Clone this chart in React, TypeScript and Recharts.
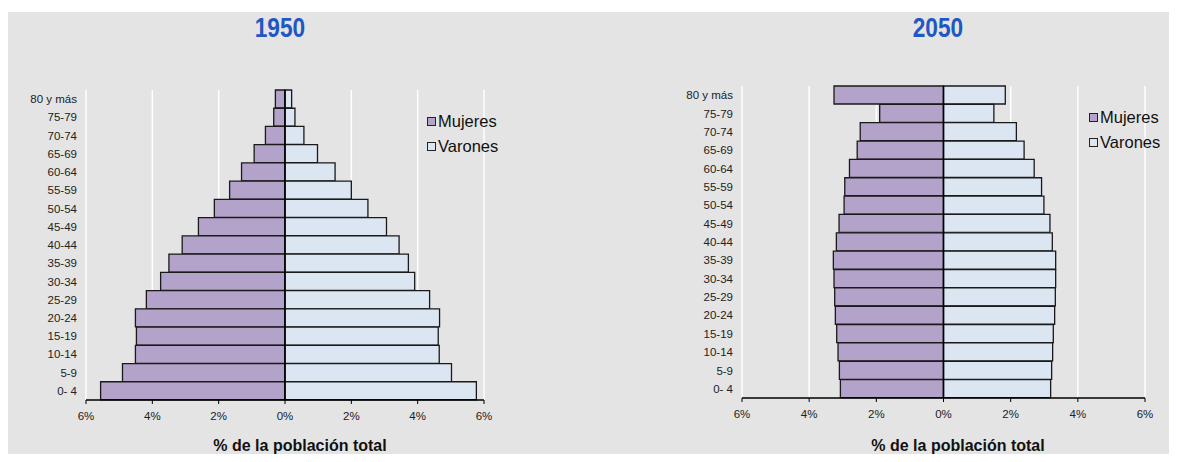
import React from "react";
import {
  BarChart,
  Bar,
  XAxis,
  YAxis,
  CartesianGrid,
  ReferenceLine,
} from "recharts";

const ageGroups = [
  "80 y más", "75-79", "70-74", "65-69", "60-64", "55-59", "50-54", "45-49",
  "40-44", "35-39", "30-34", "25-29", "20-24", "15-19", "10-14", "5-9", "0- 4",
];

// % of total population, read top (80+) to bottom (0-4)
const mujeres1950 = [0.29, 0.34, 0.59, 0.93, 1.31, 1.67, 2.13, 2.61, 3.1, 3.5, 3.75, 4.18, 4.51, 4.48, 4.51, 4.9, 5.56];
const varones1950 = [0.2, 0.3, 0.57, 0.98, 1.51, 2.0, 2.5, 3.06, 3.44, 3.72, 3.91, 4.36, 4.66, 4.62, 4.65, 5.02, 5.77];
const mujeres2050 = [3.26, 1.9, 2.48, 2.57, 2.8, 2.94, 2.96, 3.11, 3.19, 3.28, 3.26, 3.24, 3.22, 3.18, 3.14, 3.1, 3.07];
const varones2050 = [1.84, 1.5, 2.17, 2.4, 2.7, 2.92, 2.99, 3.17, 3.24, 3.34, 3.34, 3.33, 3.31, 3.27, 3.25, 3.22, 3.19];

const xTicks = [-6, -4, -2, 0, 2, 4, 6];

const series = [
  { key: "mujeres", name: "Mujeres", color: "#b3a2c9" },
  { key: "varones", name: "Varones", color: "#dce6f2" },
];

const buildRows = (m: number[], v: number[]) =>
  ageGroups.map((age, i) => ({ age, mujeres: -m[i], varones: v[i] }));

const sans = "'Liberation Sans', Arial, sans-serif";

type PyramidProps = {
  title: string;
  rows: { age: string; mujeres: number; varones: number }[];
  left: number;
  top: number;
  width: number;
  yAxisWidth: number;
  marginRight: number;
  marginBottom: number;
  titleX: number;
  labelX: number;
  legendX: number;
  legendY: number;
};

function Pyramid(p: PyramidProps) {
  return (
    <>
      <div
        style={{
          position: "absolute",
          left: p.titleX - 60,
          width: 120,
          top: 13,
          textAlign: "center",
          fontFamily: sans,
          fontWeight: "bold",
          fontSize: 27,
          color: "#1f57c3",
          transform: "scaleX(0.84)",
        }}
      >
        {p.title}
      </div>
      <div style={{ position: "absolute", left: p.left, top: p.top }}>
        <BarChart
          width={p.width}
          height={360}
          data={p.rows}
          layout="vertical"
          stackOffset="sign"
          barCategoryGap={0}
          margin={{ top: 10, right: p.marginRight, left: 0, bottom: p.marginBottom }}
        >
          <CartesianGrid horizontal={false} stroke="#ffffff" strokeWidth={1.5} />
          <XAxis
            type="number"
            domain={[-6, 6]}
            ticks={xTicks}
            tickFormatter={(v: number) => `${Math.abs(v)}%`}
            tick={{ fontSize: 11.5, fill: "#222", fontFamily: sans }}
            tickLine={{ stroke: "#000" }}
            axisLine={{ stroke: "#000", strokeWidth: 1.5 }}
            tickSize={4}
            tickMargin={8}
            height={30}
          />
          <YAxis
            type="category"
            dataKey="age"
            width={p.yAxisWidth}
            tick={{ fontSize: 11.5, fill: "#222", fontFamily: sans }}
            tickLine={false}
            axisLine={false}
            tickSize={0}
            tickMargin={9}
            interval={0}
          />
          {series.map((s) => (
            <Bar
              key={s.key}
              dataKey={s.key}
              name={s.name}
              stackId="a"
              fill={s.color}
              stroke="#1a1a1a"
              strokeWidth={1.3}
              isAnimationActive={false}
            />
          ))}
          <ReferenceLine x={0} stroke="#000" strokeWidth={1.5} />
        </BarChart>
      </div>
      <div
        style={{
          position: "absolute",
          left: p.legendX,
          top: p.legendY,
          fontFamily: sans,
          fontSize: 16.5,
          color: "#111",
          lineHeight: "25px",
        }}
      >
        {series.map((s) => (
          <div key={s.key} style={{ display: "flex", alignItems: "center" }}>
            <span
              style={{
                display: "inline-block",
                width: 7,
                height: 7,
                background: s.color,
                border: "1.5px solid #222",
                marginRight: 2,
              }}
            />
            {s.name}
          </div>
        ))}
      </div>
      <div
        style={{
          position: "absolute",
          left: p.labelX - 120,
          width: 240,
          top: 438,
          textAlign: "center",
          fontFamily: sans,
          fontWeight: "bold",
          fontSize: 16,
          lineHeight: "16px",
          color: "#111",
        }}
      >
        % de la población total
      </div>
    </>
  );
}

export default function App() {
  return (
    <div style={{ position: "relative", width: 1177, height: 462, margin: -8, background: "#fff" }}>
      <div style={{ position: "absolute", left: 8, top: 12, width: 1163, height: 450, background: "#e4e4e4" }} />
      <Pyramid
        title="1950"
        rows={buildRows(mujeres1950, varones1950)}
        left={0}
        top={80}
        width={600}
        yAxisWidth={86}
        marginRight={116}
        marginBottom={10}
        titleX={280}
        labelX={300}
        legendX={427}
        legendY={109}
      />
      <Pyramid
        title="2050"
        rows={buildRows(mujeres2050, varones2050)}
        left={640}
        top={76}
        width={537}
        yAxisWidth={102}
        marginRight={32}
        marginBottom={8}
        titleX={938}
        labelX={958}
        legendX={1089}
        legendY={105}
      />
    </div>
  );
}
